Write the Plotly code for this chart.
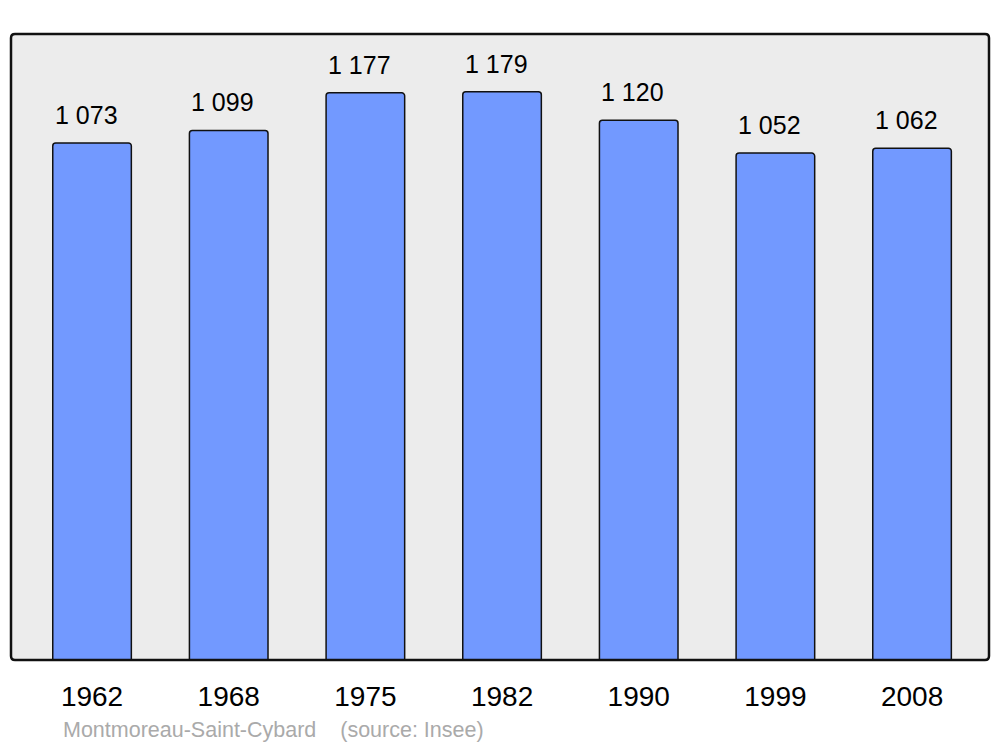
import plotly.graph_objects as go

years = ["1962", "1968", "1975", "1982", "1990", "1999", "2008"]
population = [1073, 1099, 1177, 1179, 1120, 1052, 1062]
value_labels = ["1 073", "1 099", "1 177", "1 179", "1 120", "1 052", "1 062"]

FONT = "Liberation Sans, Arial, sans-serif"
W, H = 1000, 747
ML, MR, MT, MB = 11, 11, 34, 87
PW, PH = W - ML - MR, H - MT - MB

fig = go.Figure()
fig.add_trace(go.Bar(
    x=list(range(len(years))),
    y=population,
    width=0.575,
    marker=dict(color="#7299ff", line=dict(color="#111111", width=1.5), cornerradius=3),
    hoverinfo="skip",
))

for i, (v, t) in enumerate(zip(population, value_labels)):
    fig.add_annotation(x=i, y=v, text=t, showarrow=False, xref="x", yref="y",
                       yanchor="bottom", yshift=12, xshift=-6,
                       font=dict(family=FONT, size=25, color="#000"))

fig.add_annotation(text="Montmoreau-Saint-Cybard&nbsp;&nbsp;&nbsp;&nbsp;(source: Insee)",
                   xref="paper", yref="paper", x=(61 - ML) / PW, y=0, xanchor="left",
                   yanchor="middle", yshift=-70, showarrow=False,
                   font=dict(family=FONT, size=21.5, color="#aaaaaa"))

# rounded frame
r = 4
dx, dy = r / PW, r / PH
path = (f"M {dx},0 L {1-dx},0 Q 1,0 1,{dy} L 1,{1-dy} Q 1,1 {1-dx},1 "
        f"L {dx},1 Q 0,1 0,{1-dy} L 0,{dy} Q 0,0 {dx},0 Z")
fig.add_shape(type="path", xref="paper", yref="paper", path=path,
              line=dict(color="#111111", width=2.5), layer="above")

fig.update_layout(
    width=W, height=H,
    margin=dict(l=ML, r=MR, t=MT, b=MB),
    paper_bgcolor="white", plot_bgcolor="#ececec",
    showlegend=False,
    xaxis=dict(range=[-0.593, 6.563], tickmode="array", tickvals=list(range(len(years))),
               ticktext=years, showgrid=False, zeroline=False, showline=False,
               ticks="", ticklabelstandoff=17, tickfont=dict(family=FONT, size=28, color="#000")),
    yaxis=dict(range=[0, 1299], showticklabels=False, showgrid=False, zeroline=False,
               showline=False, ticks=""),
)

fig.write_html("out.html", config={"displayModeBar": False},
               post_script="document.body.style.margin='0';")
